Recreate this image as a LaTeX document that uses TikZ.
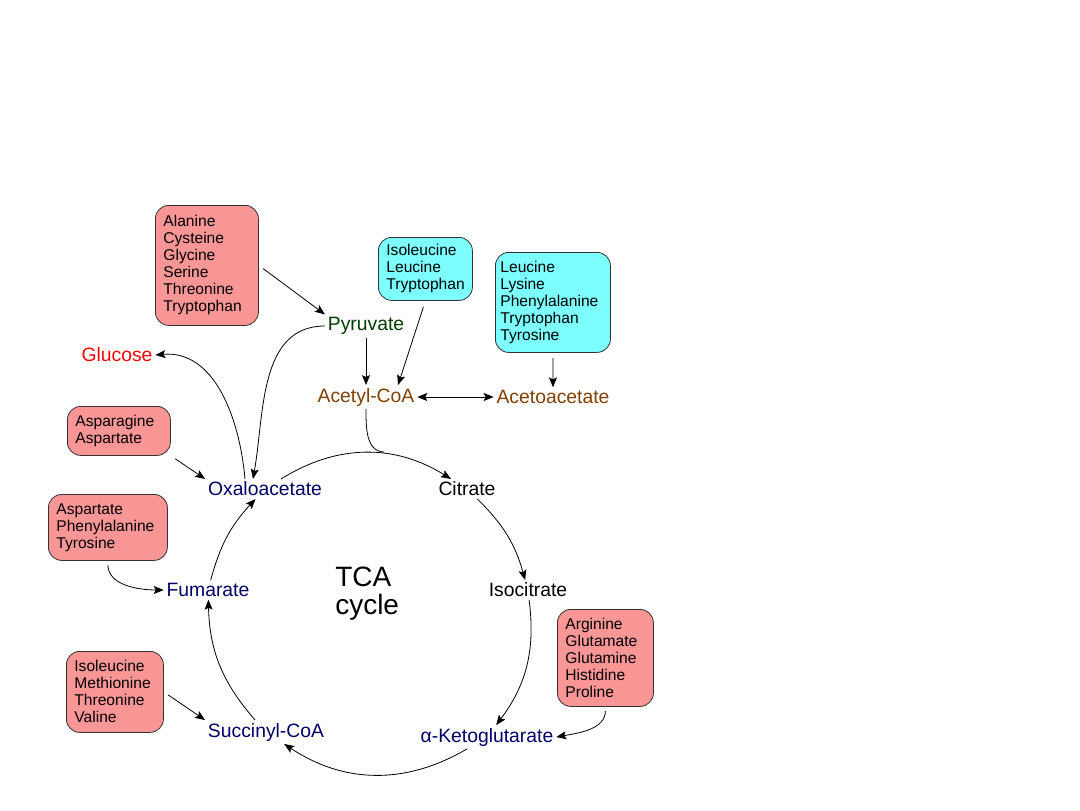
\documentclass[tikz,border=0pt]{standalone}
\usepackage{fontspec}
\setmainfont{Liberation Sans}
\usetikzlibrary{arrows.meta}
\definecolor{aapink}{RGB}{250,150,150}
\definecolor{aacyan}{RGB}{125,255,255}
\definecolor{pyrgreen}{RGB}{0,60,0}
\definecolor{acebrown}{RGB}{128,64,0}
\definecolor{tcanavy}{RGB}{0,0,102}
\begin{document}
\begin{tikzpicture}[x=0.75pt, y=-0.75pt,
        aabox/.style={rectangle, rounded corners=10pt, draw=black!80, line width=0.6pt, anchor=north west,
            align=left, inner xsep=6pt, inner ysep=2pt, font=\fontsize{11.7}{12.75}\selectfont},
        metab/.style={inner sep=2pt, font=\fontsize{14.5}{16}\selectfont},
        flow/.style={line width=0.6pt, -{Stealth[length=7.5pt,width=6pt,inset=1.5pt]}}]
        \useasboundingbox[fill=white] (0,0) rectangle (1080,810);
        % amino acid boxes
        \node[aabox, fill=aapink, text width=65.25pt, minimum height=90pt] at (155,205) (ala)
            {Alanine\\Cysteine\\Glycine\\Serine\\Threonine\\Tryptophan};
        \node[aabox, fill=aacyan, text width=58.5pt, minimum height=47.25pt] at (378,237) (ilt)
            {Isoleucine\\Leucine\\Tryptophan};
        \node[aabox, fill=aacyan, inner xsep=3.75pt, text width=78.75pt, minimum height=75pt] at (495,252) (leu)
            {Leucine\\Lysine\\Phenylalanine\\Tryptophan\\Tyrosine};
        \node[aabox, fill=aapink, text width=65.25pt, minimum height=36.75pt] at (67,406) (asn)
            {Asparagine\\Aspartate};
        \node[aabox, fill=aapink, text width=77.25pt, minimum height=49.5pt] at (48,494) (asp)
            {Aspartate\\Phenylalanine\\Tyrosine};
        \node[aabox, fill=aapink, text width=60.75pt, minimum height=60.75pt] at (66,651) (ilv)
            {Isoleucine\\Methionine\\Threonine\\Valine};
        \node[aabox, fill=aapink, text width=60pt, minimum height=72.75pt] at (557,609) (arg)
            {Arginine\\Glutamate\\Glutamine\\Histidine\\Proline};
        % metabolites
        \node[metab, text=pyrgreen] at (366,326) (pyr) {Pyruvate};
        \node[metab, text=red] at (117,355) (glu) {Glucose};
        \node[metab, text=acebrown] at (366,397) (ace) {Acetyl-CoA};
        \node[metab, text=acebrown] at (553,397) (aac) {Acetoacetate};
        \node[metab, text=tcanavy] at (265,489) (oxa) {Oxaloacetate};
        \node[metab] at (467,489) (cit) {Citrate};
        \node[metab] at (528,590) (iso) {Isocitrate};
        \node[metab, text=tcanavy] at (487,737) (akg) {α-Ketoglutarate};
        \node[metab, text=tcanavy] at (266,732) (suc) {Succinyl-CoA};
        \node[metab, text=tcanavy] at (208,590) (fum) {Fumarate};
        \node[anchor=west, align=left, inner sep=0pt, font=\fontsize{21}{21}\selectfont] at (335,594) (tca) {TCA\\cycle};
        \coordinate (join) at (384,452);
        % cycle
        \draw[flow] (oxa) to[bend left=32] (cit);
        \draw[flow] (cit) to[bend left=15] (iso);
        \draw[flow] (iso) to[bend left=22] (akg);
        \draw[flow] (akg) to[bend left=32] (suc);
        \draw[flow] (suc) to[bend left=20] (fum);
        \draw[flow] (fum) to[bend left=14] (oxa);
        % feeding arrows
        \draw[flow, shorten <=4pt] (ala.east) -- (pyr.north west);
        \draw[flow] (pyr.south) -- (ace.north);
        \draw[flow, shorten <=5pt] (ilt.south) -- ([xshift=24pt]ace.north);
        \draw[line width=0.6pt, {Stealth[length=7.5pt,width=6pt,inset=1.5pt]}-{Stealth[length=7.5pt,width=6pt,inset=1.5pt]}] (ace.east) -- (aac.west);
        \draw[flow, shorten <=4pt] (leu.south) -- (aac.north);
        \draw[line width=0.6pt] (ace.south) to[out=-90, in=178] (join);
        \draw[flow] (pyr.west) to[out=180, in=80] ([xshift=-9pt]oxa.north);
        \draw[flow] ([xshift=-15pt]oxa.north) to[out=95, in=5] (glu.east);
        \draw[flow, shorten <=4pt] (asn.south east) -- (oxa.north west);
        \draw[flow, shorten <=3pt] (asp.south) to[out=-90, in=180] (fum.west);
        \draw[flow, shorten <=4pt] (ilv.east) -- (suc.north west);
        \draw[flow, shorten <=3pt] (arg.south) to[out=-90, in=10] (akg.east);
\end{tikzpicture}
\end{document}
